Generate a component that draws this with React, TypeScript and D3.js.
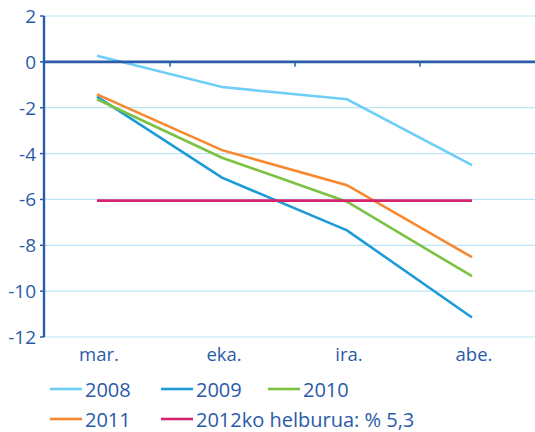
import React from "react";
import * as d3 from "d3";

const categories = ["mar.", "eka.", "ira.", "abe."];
const series2008 = [0.27, -1.1, -1.63, -4.5];
const series2009 = [-1.52, -5.05, -7.35, -11.15];
const series2010 = [-1.63, -4.18, -6.1, -9.35];
const series2011 = [-1.42, -3.85, -5.38, -8.52];
const target2012 = [-6.05, -6.05, -6.05, -6.05];
const yTicks = [2, 0, -2, -4, -6, -8, -10, -12];

const seriesList = [
  { name: "2008", values: series2008, color: "#6dcff6" },
  { name: "2009", values: series2009, color: "#1e9bd7" },
  { name: "2010", values: series2010, color: "#7cc242" },
  { name: "2011", values: series2011, color: "#f7882f" },
  { name: "2012ko helburua: % 5,3", values: target2012, color: "#d4246e" },
];

const W = 535;
const H = 432;
const axisColor = "#2a5caa";
const textColor = "#2a5ba8";
const font = "'Open Sans', Lato, sans-serif";

export default function App() {
  const x = d3.scalePoint<string>().domain(categories).range([97, 472]);
  const y = d3.scaleLinear().domain([-12, 2]).range([337, 16]);
  const line = d3
    .line<number>()
    .x((_, i) => x(categories[i]) as number)
    .y((d) => y(d));

  const legendItems = [
    { s: seriesList[0], lx: 50, ly: 389 },
    { s: seriesList[1], lx: 161, ly: 389 },
    { s: seriesList[2], lx: 268, ly: 389 },
    { s: seriesList[3], lx: 50, ly: 419 },
    { s: seriesList[4], lx: 161, ly: 419 },
  ];

  return (
    <svg
      width={W}
      height={H}
      style={{ position: "absolute", left: 0, top: 0, background: "#fff" }}
      fontFamily={font}
    >
      {yTicks
        .filter((t) => t !== 0)
        .map((t) => (
          <line key={"g" + t} x1={44} x2={W} y1={y(t)} y2={y(t)} stroke="#bde5f6" strokeWidth={1.2} />
        ))}
      {yTicks.map((t) => (
        <g key={"t" + t}>
          <line x1={40} x2={44} y1={y(t)} y2={y(t)} stroke={axisColor} strokeWidth={1.5} />
          <text
            x={36}
            y={y(t)}
            textAnchor="end"
            dominantBaseline="central"
            fontSize={19}
            fill={textColor}
          >
            {t}
          </text>
        </g>
      ))}
      {seriesList.map((s) => (
        <path key={s.name} d={line(s.values) || ""} fill="none" stroke={s.color} strokeWidth={2.6} />
      ))}
      <line x1={44} x2={W} y1={y(0)} y2={y(0)} stroke={axisColor} strokeWidth={2.6} />
      {categories.slice(0, 3).map((c) => (
        <line
          key={"xt" + c}
          x1={(x(c) as number) + 73}
          x2={(x(c) as number) + 73}
          y1={y(0)}
          y2={y(0) + 5}
          stroke={axisColor}
          strokeWidth={1.5}
        />
      ))}
      <line x1={44} x2={44} y1={y(2)} y2={y(-12)} stroke={axisColor} strokeWidth={2.4} />
      {categories.map((c) => (
        <text
          key={"xl" + c}
          x={(x(c) as number) + 2}
          y={361}
          textAnchor="middle"
          fontSize={18.5}
          fill={textColor}
        >
          {c}
        </text>
      ))}
      {legendItems.map(({ s, lx, ly }) => (
        <g key={"lg" + s.name}>
          <line x1={lx} x2={lx + 32} y1={ly} y2={ly} stroke={s.color} strokeWidth={2.6} />
          <text x={lx + 35} y={ly} dominantBaseline="central" fontSize={20} fill={textColor}>
            {s.name}
          </text>
        </g>
      ))}
    </svg>
  );
}
